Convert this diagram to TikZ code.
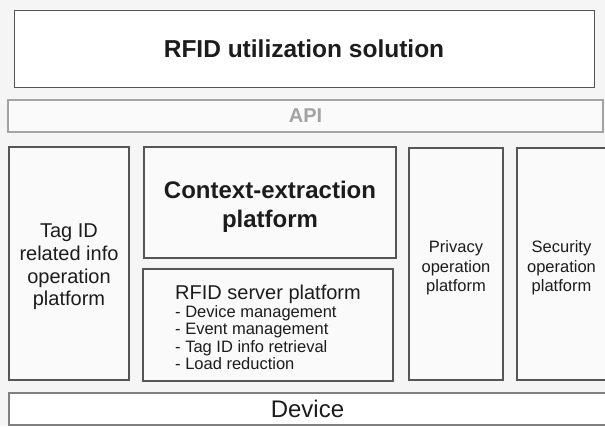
\documentclass[tikz,border=0pt]{standalone}
\usepackage{fontspec}
\setmainfont{Liberation Sans}
\definecolor{boxgray}{HTML}{555555}
\definecolor{apigray}{HTML}{A3A3A3}
\definecolor{bggray}{HTML}{F5F5F5}
\definecolor{txtgray}{HTML}{1C1C1C}
\usetikzlibrary{positioning}
\newcommand{\fsz}[2]{\fontsize{#1}{#2}\selectfont}
\newcommand{\topgap}[1]{\rule{0pt}{#1}}

\begin{document}
\begin{tikzpicture}[x=1pt, y=-1pt,
	every node/.append style={shape=rectangle, align=center, inner sep=0pt, outer sep=0pt, text=txtgray},
	layerbox/.style={draw=boxgray, line width=0.9pt, fill=white},
	platbox/.style={draw=boxgray, line width=2.4pt, fill=white!50!bggray}]
	\useasboundingbox (0,0) rectangle (605,426);
	\clip (0,0) rectangle (605,426);
	\fill[bggray] (0,0) rectangle (605,426);
	% layers
	\node[layerbox, minimum width=580, minimum height=77, font=\fsz{24.5}{28}\bfseries] at (304, 48.5) (util)
		{RFID utilization solution};
	\node[draw=apigray, line width=2.4pt, fill=white!50!bggray, minimum width=595, minimum height=32,
		text=apigray, font=\fsz{20}{24}\bfseries] at (305.5, 116) (api) {API};
	% platforms
	\node[platbox, minimum width=120, minimum height=233, font=\fsz{20}{22.7}] at (69, 263.5) (tagid)
		{\topgap{21pt}Tag ID\\ related info\\ operation\\ platform};
	\node[platbox, minimum width=252, minimum height=111, font=\fsz{24}{29}\bfseries] at (270, 202.5) (context)
		{\topgap{25pt}Context-extraction\\ platform};
	\node[platbox, minimum width=250, minimum height=112, align=left, font=\fsz{16.5}{17.4}] at (268, 325) (server)
		{{\fsz{20}{19}\topgap{19.5pt}RFID server platform}\\ - Device management\\ - Event management\\
		 - Tag ID info retrieval\\ - Load reduction};
	\node[platbox, minimum width=94, minimum height=232, font=\fsz{16.5}{19.5}] at (456, 264) (privacy)
		{\topgap{20pt}Privacy\\ operation\\ platform};
	\node[platbox, minimum width=89, minimum height=232, font=\fsz{16.5}{19.5}] at (561.5, 264) (security)
		{\topgap{20pt}Security\\ operation\\ platform};
	% bottom
	\node[draw=gray, line width=1.1pt, fill=white, minimum width=597, minimum height=32, font=\fsz{24}{28}]
		at (307.5, 409) (device) {Device};
\end{tikzpicture}
\end{document}
